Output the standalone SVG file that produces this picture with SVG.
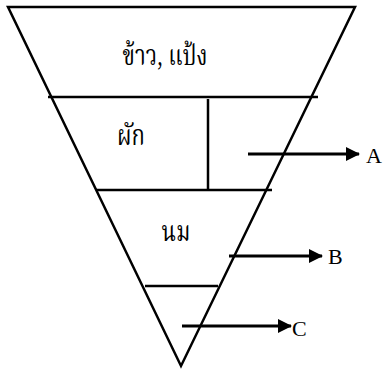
<svg xmlns="http://www.w3.org/2000/svg" width="385" height="371" viewBox="0 0 385 371">
<defs>
<style>
.ln{stroke:#000;stroke-width:2.5;fill:none}
.ar{stroke:#000;stroke-width:2.8;fill:none}
.th{font-family:"Liberation Serif","Noto Serif Thai","Noto Sans Thai","DejaVu Sans",serif;font-size:22px;fill:#000}
.lb{font-family:"Liberation Serif",serif;font-size:22px;fill:#000}
</style>
<marker id="ah" markerWidth="14" markerHeight="14" refX="13" refY="7" orient="auto" markerUnits="userSpaceOnUse"><path d="M0,0 L14,7 L0,14 Z" fill="#000"/></marker>
</defs>
<g id="pyramid">
<path class="ln" d="M8,7 L355,7 L181,366 Z" stroke-linejoin="miter"/>
<line class="ln" x1="48" y1="97" x2="318" y2="97"/>
<line class="ln" x1="208" y1="99" x2="208" y2="190"/>
<line class="ln" x1="96" y1="190" x2="272" y2="190"/>
<line class="ln" x1="145" y1="286" x2="218" y2="286"/>
</g>
<g id="grains"><text class="th" text-anchor="middle" transform="translate(165,65) scale(1,1.3)">ข้าว, แป้ง</text></g>
<g id="vegetables"><text class="th" text-anchor="middle" transform="translate(131,145) scale(1,1.3)">ผัก</text></g>
<g id="milk"><text class="th" text-anchor="middle" transform="translate(176,241) scale(1,1.3)">นม</text></g>
<g id="connectors">
<line class="ar" x1="248" y1="154" x2="359" y2="154" marker-end="url(#ah)"/>
<line class="ar" x1="229" y1="256" x2="322" y2="256" marker-end="url(#ah)"/>
<line class="ar" x1="182" y1="326" x2="291" y2="326" marker-end="url(#ah)"/>
</g>
<g id="labels">
<text class="lb" x="366" y="163">A</text>
<text class="lb" x="328" y="264">B</text>
<text class="lb" x="292" y="336">C</text>
</g>
</svg>
